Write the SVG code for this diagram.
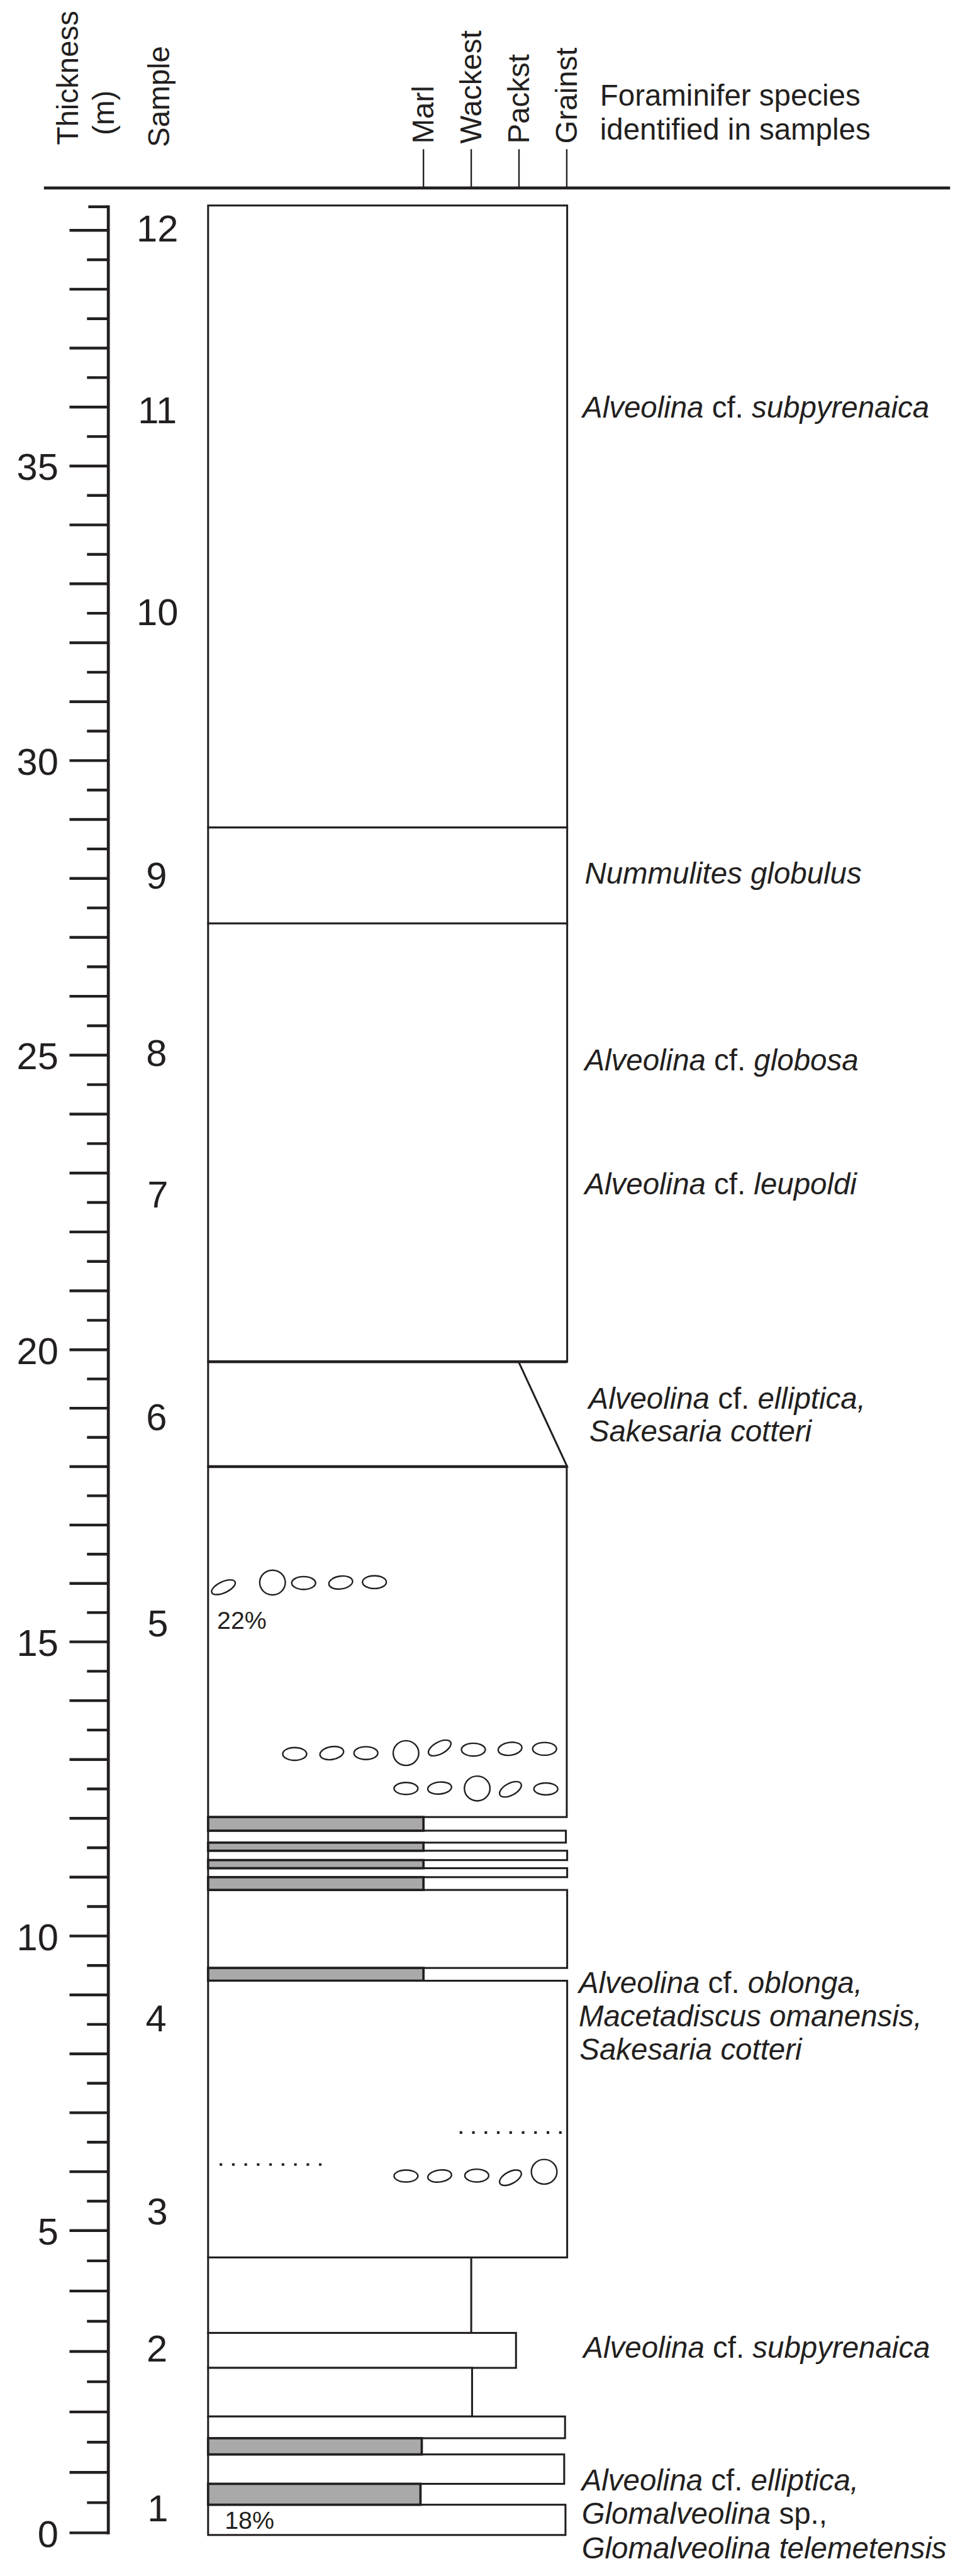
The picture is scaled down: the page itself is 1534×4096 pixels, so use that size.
<svg xmlns="http://www.w3.org/2000/svg" width="1534" height="4096" viewBox="0 0 1534 4096">
<style>
text{font-family:"Liberation Sans",Arial,sans-serif;fill:#231f20;stroke:none}
.hd{font-size:70px}
.num{font-size:88px}
.sn{font-size:88px;text-anchor:middle}
.sp{font-size:70px}
.it{font-style:italic}
.pc{font-size:58px}
.ax{stroke:#231f20;stroke-width:7;fill:none}
.tk{stroke:#231f20;stroke-width:6.5;fill:none}
.bed{fill:#fff;stroke:#231f20;stroke-width:4.5}
.gray{fill:#a9a9a9;stroke:#231f20;stroke-width:5.5}
.thick{stroke:#231f20;stroke-width:6.5;fill:none}
.fos{fill:none;stroke:#231f20;stroke-width:3.5}
.dots{stroke:#231f20;stroke-width:6;stroke-dasharray:6 23.125;fill:none}
</style>
<rect width="1534" height="4096" fill="#fff"/>
<g transform="scale(0.6779)">
<g id="header">
<text class="hd" transform="translate(183,340) rotate(-90)">Thickness</text>
<text class="hd" transform="translate(267,317) rotate(-90)">(m)</text>
<text class="hd" transform="translate(397,345) rotate(-90)">Sample</text>
<text class="hd" transform="translate(1017,337) rotate(-90)">Marl</text>
<text class="hd" transform="translate(1129,337) rotate(-90)">Wackest</text>
<text class="hd" transform="translate(1241,337) rotate(-90)">Packst</text>
<text class="hd" transform="translate(1353,337) rotate(-90)">Grainst</text>
<text class="hd" x="1407" y="248">Foraminifer species</text>
<text class="hd" x="1407" y="328">identified in samples</text>
<path d="M993 350V441M1105 350V441M1217 350V441M1329 350V441" stroke="#231f20" stroke-width="3.5"/>
<path d="M103 441H2228" class="ax"/>
</g>
<g id="scale">
<path class="ax" d="M254 481.5V5944.5"/>
<path class="tk" d="M163 5941H254M163 5799.2H254M163 5657.4H254M163 5515.6H254M163 5373.8H254M163 5232H254M163 5093.8H254M163 4955.6H254M163 4817.4H254M163 4679.2H254M163 4541H254M163 4403H254M163 4265H254M163 4127H254M163 3989H254M163 3851H254M163 3714H254M163 3577H254M163 3440H254M163 3303H254M163 3166H254M163 3027.8H254M163 2889.6H254M163 2751.4H254M163 2613.2H254M163 2475H254M163 2336.8H254M163 2198.6H254M163 2060.4H254M163 1922.2H254M163 1784H254M163 1645.8H254M163 1507.6H254M163 1369.4H254M163 1231.2H254M163 1093H254M163 954.8H254M163 816.6H254M163 678.4H254M163 540.2H254"/>
<path class="tk" d="M204 5870.1H254M204 5728.3H254M204 5586.5H254M204 5444.7H254M204 5302.9H254M204 5162.9H254M204 5024.7H254M204 4886.5H254M204 4748.3H254M204 4610.1H254M204 4472H254M204 4334H254M204 4196H254M204 4058H254M204 3920H254M204 3782.5H254M204 3645.5H254M204 3508.5H254M204 3371.5H254M204 3234.5H254M204 3096.9H254M204 2958.7H254M204 2820.5H254M204 2682.3H254M204 2544.1H254M204 2405.9H254M204 2267.7H254M204 2129.5H254M204 1991.3H254M204 1853.1H254M204 1714.9H254M204 1576.7H254M204 1438.5H254M204 1300.3H254M204 1162.1H254M204 1023.9H254M204 885.7H254M204 747.5H254M204 609.3H254M207 485H254"/>
<g class="num" text-anchor="end">
<text x="137" y="5974">0</text>
<text x="137" y="5265">5</text>
<text x="137" y="4574">10</text>
<text x="137" y="3884">15</text>
<text x="137" y="3199">20</text>
<text x="137" y="2508">25</text>
<text x="137" y="1817">30</text>
<text x="137" y="1126">35</text>
</g>
</g>
<g id="samples">
<text class="sn" x="369" y="566">12</text>
<text class="sn" x="369" y="993">11</text>
<text class="sn" x="369" y="1467">10</text>
<text class="sn" x="367" y="2084">9</text>
<text class="sn" x="367" y="2501">8</text>
<text class="sn" x="370" y="2832">7</text>
<text class="sn" x="367" y="3354">6</text>
<text class="sn" x="370" y="3839">5</text>
<text class="sn" x="366" y="4764">4</text>
<text class="sn" x="369" y="5218">3</text>
<text class="sn" x="368" y="5539">2</text>
<text class="sn" x="370" y="5914">1</text>
</g>
<g id="column">
<rect id="bed-12-10" class="bed" x="488" y="482" width="842" height="1459"/>
<rect id="bed-9" class="bed" x="488" y="1941" width="842" height="225"/>
<rect id="bed-8-7" class="bed" x="488" y="2166" width="842" height="1028"/>
<polygon id="bed-6" class="bed" points="488,3194 1216,3194 1330,3440 488,3440"/>
<rect id="bed-5" class="bed" x="488" y="3440" width="841" height="822"/>
<path class="thick" d="M488 3194H1330M488 3440H1330"/>
<rect class="bed" x="488" y="4294" width="839" height="28"/>
<rect class="bed" x="488" y="4341" width="842" height="22"/>
<rect class="bed" x="488" y="4382" width="842" height="21"/>
<rect class="bed" x="488" y="4433" width="842" height="183"/>
<rect class="gray" x="488" y="4262" width="505" height="32"/>
<rect class="gray" x="488" y="4322" width="505" height="19"/>
<rect class="gray" x="488" y="4363" width="505" height="19"/>
<rect class="gray" x="488" y="4403" width="505" height="30"/>
<rect class="gray" x="488" y="4616" width="505" height="30"/>
<rect id="bed-4-3" class="bed" x="488" y="4646" width="842" height="649"/>
<rect class="bed" x="488" y="5295" width="617" height="177"/>
<rect class="bed" x="488" y="5472" width="722" height="82"/>
<rect class="bed" x="488" y="5554" width="619" height="114"/>
<rect class="bed" x="488" y="5668" width="837" height="51"/>
<rect class="bed" x="488" y="5757" width="835" height="69"/>
<rect class="bed" x="488" y="5875" width="838" height="71"/>
<rect class="gray" x="488" y="5719" width="501" height="38"/>
<rect class="gray" x="488" y="5826" width="498" height="49"/>
</g>
<g id="fossils" class="fos">
<ellipse cx="524" cy="3723" rx="30" ry="13" transform="rotate(-25 524 3723)"/>
<ellipse cx="639" cy="3712" rx="30" ry="29"/>
<ellipse cx="712" cy="3713" rx="28" ry="15"/>
<ellipse cx="799" cy="3712" rx="28" ry="15" transform="rotate(-8 799 3712)"/>
<ellipse cx="878" cy="3711" rx="28" ry="15"/>
<ellipse cx="691" cy="4114" rx="28" ry="15"/>
<ellipse cx="778" cy="4112" rx="28" ry="15" transform="rotate(-10 778 4112)"/>
<ellipse cx="858" cy="4112" rx="28" ry="15"/>
<ellipse cx="952" cy="4112" rx="30" ry="29"/>
<ellipse cx="1031" cy="4100" rx="29" ry="14" transform="rotate(-28 1031 4100)"/>
<ellipse cx="1110" cy="4104" rx="28" ry="15"/>
<ellipse cx="1196" cy="4102" rx="28" ry="15" transform="rotate(-8 1196 4102)"/>
<ellipse cx="1277" cy="4102" rx="28" ry="15"/>
<ellipse cx="952" cy="4195" rx="28" ry="14"/>
<ellipse cx="1031" cy="4194" rx="28" ry="14" transform="rotate(-6 1031 4194)"/>
<ellipse cx="1119" cy="4195" rx="30" ry="29"/>
<ellipse cx="1197" cy="4197" rx="28" ry="14" transform="rotate(-28 1197 4197)"/>
<ellipse cx="1280" cy="4196" rx="28" ry="14"/>
<ellipse cx="952" cy="5104" rx="28" ry="14"/>
<ellipse cx="1031" cy="5104" rx="28" ry="14" transform="rotate(-8 1031 5104)"/>
<ellipse cx="1118" cy="5103" rx="28" ry="15"/>
<ellipse cx="1197" cy="5108" rx="28" ry="14" transform="rotate(-28 1197 5108)"/>
<ellipse cx="1276" cy="5094" rx="30" ry="29"/>
<path class="dots" d="M1078 5002H1320M515 5077H757"/>
</g>
<g id="percent-labels">
<text class="pc" x="509" y="3820">22%</text>
<text class="pc" x="527" y="5932">18%</text>
</g>
<g id="species">
<text class="sp" x="1366" y="980"><tspan class="it">Alveolina</tspan> cf. <tspan class="it">subpyrenaica</tspan></text>
<text class="sp it" x="1371" y="2072">Nummulites globulus</text>
<text class="sp" x="1371" y="2510"><tspan class="it">Alveolina</tspan> cf. <tspan class="it">globosa</tspan></text>
<text class="sp" x="1371" y="2801"><tspan class="it">Alveolina</tspan> cf. <tspan class="it">leupoldi</tspan></text>
<text class="sp" x="1380" y="3304"><tspan class="it">Alveolina</tspan> cf. <tspan class="it">elliptica,</tspan></text>
<text class="sp it" x="1382" y="3381">Sakesaria cotteri</text>
<text class="sp" x="1357" y="4675"><tspan class="it">Alveolina</tspan> cf. <tspan class="it">oblonga,</tspan></text>
<text class="sp it" x="1357" y="4753">Macetadiscus omanensis,</text>
<text class="sp it" x="1359" y="4831">Sakesaria cotteri</text>
<text class="sp" x="1368" y="5531"><tspan class="it">Alveolina</tspan> cf. <tspan class="it">subpyrenaica</tspan></text>
<text class="sp" x="1364" y="5842"><tspan class="it">Alveolina</tspan> cf. <tspan class="it">elliptica,</tspan></text>
<text class="sp" x="1364" y="5920"><tspan class="it">Glomalveolina</tspan> sp.,</text>
<text class="sp it" x="1364" y="6001">Glomalveolina telemetensis</text>
</g>
</g>
</svg>
